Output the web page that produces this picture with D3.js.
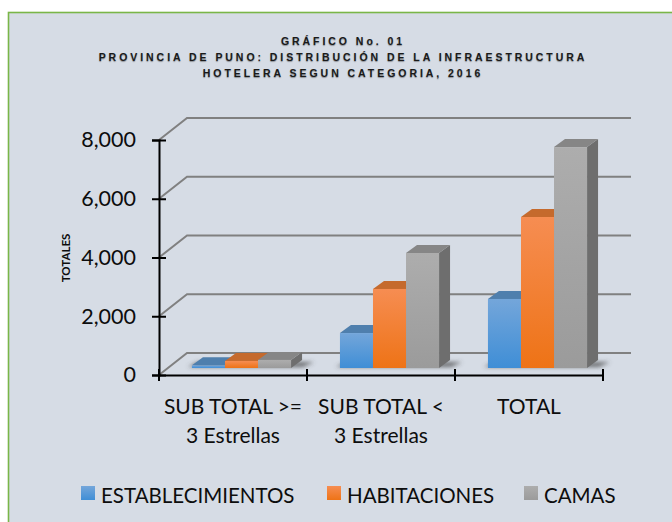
<!DOCTYPE html>
<html>
<head>
<meta charset="utf-8">
<script src="https://cdn.jsdelivr.net/npm/d3@7"></script>
<style>
  html, body { margin: 0; padding: 0; background: #fff; }
  svg { display: block; }
  text { font-family: Lato, sans-serif; fill: #0d0d0d; }
  .title { font-family: "Liberation Sans", sans-serif; font-weight: bold; font-size: 10.5px; letter-spacing: 2.95px; fill: #1a1a1a; text-shadow: 0 1px 1px rgba(0,0,0,.35); }
</style>
</head>
<body>
<div id="chart"></div>
<script>
var titleLines = ["GRÁFICO No. 01", "PROVINCIA DE PUNO: DISTRIBUCIÓN DE LA INFRAESTRUCTURA", "HOTELERA SEGUN CATEGORIA, 2016"];
var categories = ["SUB TOTAL >=|3 Estrellas", "SUB TOTAL <|3 Estrellas", "TOTAL"];
var seriesNames = ["ESTABLECIMIENTOS", "HABITACIONES", "CAMAS"];
var establecimientos = [90, 1190, 2350];
var habitaciones = [240, 2690, 5140];
var camas = [275, 3915, 7520];
var yTicks = [0, 2000, 4000, 6000, 8000];

var values = [establecimientos, habitaciones, camas];
var colors = [
  {hi: "#74a6da", lo: "#3f8ed6", top: "#4f7fad", side: "#3f6d99"},
  {hi: "#f68d52", lo: "#ee7316", top: "#c56a2d", side: "#b05a20"},
  {hi: "#adadad", lo: "#9b9b9b", top: "#868686", side: "#6e6e6e"}
];

var width = 672,
    height = 522,
    axisLeft = 159,
    axisRight = 603,
    axisBottom = 375,
    axisTop = 140,
    wallX = 28,   // depth of the chart box
    wallY = -22,
    planeX = 8.5, // where bars stand on the floor
    planeY = -7,
    depthX = 11,  // depth of one bar
    depthY = -8;

var svg = d3.select("#chart").append("svg")
    .attr("width", width)
    .attr("height", height);

var defs = svg.append("defs");
colors.forEach(function(c, i) {
  var g = defs.append("linearGradient")
      .attr("id", "front" + i)
      .attr("x1", 0).attr("y1", 0).attr("x2", 0).attr("y2", 1);
  g.append("stop").attr("offset", "0%").attr("stop-color", c.hi);
  g.append("stop").attr("offset", "100%").attr("stop-color", c.lo);
});
defs.append("filter").attr("id", "blur")
    .attr("x", "-20%").attr("y", "-100%").attr("width", "140%").attr("height", "300%")
  .append("feGaussianBlur").attr("stdDeviation", 2.2);

// Panel
svg.append("rect")
    .attr("x", 8.5)
    .attr("y", 12.5)
    .attr("width", width)
    .attr("height", height)
    .attr("fill", "#d6dce5")
    .attr("stroke", "#7ab648")
    .attr("stroke-width", 1.6);

// Title
svg.selectAll(".title")
    .data(titleLines)
  .enter().append("text")
    .attr("class", "title")
    .attr("text-anchor", "middle")
    .attr("x", 343)
    .attr("y", function(d, i) { return 45 + i * 15.8; })
    .text(function(d) { return d; });

var x = d3.scaleBand().domain(categories).range([axisLeft, axisRight]);
var y = d3.scaleLinear().domain([0, 8000]).range([axisBottom, axisTop]);
var bars = d3.scaleBand().domain(d3.range(seriesNames.length))
    .range([0, x.bandwidth()])
    .paddingInner(0)
    .paddingOuter(0.74);

// Back wall lines
svg.selectAll(".wall")
    .data(yTicks)
  .enter().append("path")
    .attr("class", "wall")
    .attr("fill", "none")
    .attr("stroke", "#808080")
    .attr("stroke-width", 2)
    .attr("d", function(d) {
      return d3.line()([[axisLeft, y(d)], [axisLeft + wallX, y(d) + wallY], [axisRight + wallX, y(d) + wallY]]);
    });

// Floor shadows
svg.append("g").attr("filter", "url(#blur)")
    .selectAll("path")
    .data(categories)
  .enter().append("path")
    .attr("fill", "#4a4a4a")
    .attr("fill-opacity", 0.75)
    .attr("d", function(c) {
      var x0 = x(c) + bars(0) + planeX,
          x1 = x(c) + bars(2) + bars.bandwidth() + planeX,
          y0 = y(0) + planeY;
      return d3.line()([[x0 - 4, y0 - 1], [x0 + 6, y0 - 6], [x1 + depthX + 12, y0 - 6], [x1 + 12, y0 - 1]]);
    });

// Bars
categories.forEach(function(c, ci) {
  var g = svg.append("g").attr("class", "category");
  seriesNames.forEach(function(s, si) {
    var x0 = x(c) + bars(si) + planeX,
        x1 = x0 + bars.bandwidth(),
        yb = y(0) + planeY,
        yt = y(values[si][ci]) + planeY,
        line = d3.line();
    g.append("path")
        .attr("fill", colors[si].side)
        .attr("d", line([[x1, yt], [x1 + depthX, yt + depthY], [x1 + depthX, yb + depthY], [x1, yb]]) + "Z");
    g.append("path")
        .attr("fill", colors[si].top)
        .attr("d", line([[x0, yt], [x0 + depthX, yt + depthY], [x1 + depthX, yt + depthY], [x1, yt]]) + "Z");
    g.append("rect")
        .attr("x", x0)
        .attr("y", yt)
        .attr("width", x1 - x0)
        .attr("height", Math.max(yb - yt, 0.5))
        .attr("fill", "url(#front" + si + ")");
  });
});

// Y axis
var yAxis = svg.append("g")
    .attr("transform", "translate(" + axisLeft + ",0)")
    .call(d3.axisLeft(y).tickValues(yTicks).tickSize(7).tickPadding(16).tickFormat(d3.format(",")));
yAxis.select(".domain").attr("stroke", "#000").attr("stroke-width", 2);
yAxis.selectAll(".tick line").attr("x2", 7).attr("x1", -7).attr("stroke", "#000").attr("stroke-width", 2);
yAxis.selectAll("text").style("font-size", "21.5px").attr("fill", "#0d0d0d");

// X axis
var xAxis = svg.append("g")
    .attr("transform", "translate(0," + axisBottom + ")")
    .call(d3.axisBottom(x).tickSize(0).tickPadding(0).tickFormat(""));
xAxis.select(".domain").attr("stroke", "#000").attr("stroke-width", 2);
xAxis.selectAll(".tick").remove();

xAxis.selectAll(".edge")
    .data(d3.range(categories.length + 1))
  .enter().append("line")
    .attr("class", "edge")
    .attr("x1", function(d) { return axisLeft + d * x.step(); })
    .attr("x2", function(d) { return axisLeft + d * x.step(); })
    .attr("y1", -6)
    .attr("y2", 6)
    .attr("stroke", "#000")
    .attr("stroke-width", 2);

// two line category labels
var labels = svg.selectAll(".catLabel")
    .data(categories)
  .enter().append("text")
    .attr("class", "catLabel")
    .attr("text-anchor", "middle")
    .style("font-size", "21px");
labels.selectAll("tspan")
    .data(function(d) {
      return d.split("|").map(function(t) { return {text: t, cat: d}; });
    })
  .enter().append("tspan")
    .attr("x", function(d) { return x(d.cat) + x.bandwidth() / 2; })
    .attr("y", function(d, i) { return 414 + i * 29; })
    .text(function(d) { return d.text; });

// Y title
svg.append("text")
    .attr("transform", "translate(69.5,258)rotate(-90)")
    .attr("text-anchor", "middle")
    .style("font-size", "11.5px")
    .style("font-weight", "bold")
    .text("TOTALES");

// Legend
var legendX = d3.scaleOrdinal().domain(seriesNames).range([81, 327, 524]);
var legend = svg.selectAll(".legend")
    .data(seriesNames)
  .enter().append("g")
    .attr("class", "legend")
    .attr("transform", function(d) { return "translate(" + legendX(d) + ",486)"; });
legend.append("rect")
    .attr("width", 14)
    .attr("height", 14)
    .attr("fill", function(d, i) { return "url(#front" + i + ")"; });
legend.append("text")
    .attr("x", 20)
    .attr("y", 17)
    .style("font-size", "20.5px")
    .text(function(d) { return d; });
</script>
</body>
</html>
